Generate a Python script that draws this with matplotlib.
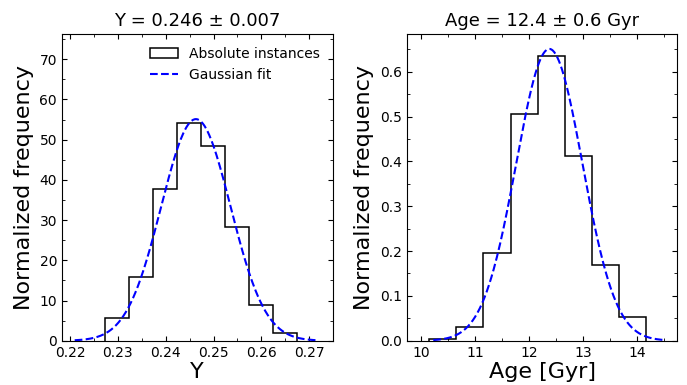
import numpy as np
import matplotlib
matplotlib.use("Agg")
import matplotlib.pyplot as plt
from matplotlib.ticker import MultipleLocator

# helium abundance Y histogram (normalized)
y_edges = [0.2274, 0.2324, 0.2374, 0.2424, 0.2474, 0.2524, 0.2574, 0.2624, 0.2674]
y_heights = [5.6, 15.9, 37.7, 54.1, 48.4, 28.2, 9.0, 1.8]
y_mu, y_sigma = 0.2463, 0.00724

# age histogram (normalized)
age_edges = [10.155, 10.655, 11.155, 11.655, 12.155, 12.655, 13.155, 13.655, 14.155]
age_heights = [0.0045, 0.031, 0.196, 0.505, 0.635, 0.413, 0.170, 0.052]
age_mu, age_sigma = 12.372, 0.613


def gauss(x, mu, sig):
    return np.exp(-0.5 * ((x - mu) / sig) ** 2) / (sig * np.sqrt(2 * np.pi))


fig = plt.figure(figsize=(6.87, 3.85), dpi=100)
ax1 = fig.add_axes([0.0902, 0.115, 0.394, 0.796])
ax2 = fig.add_axes([0.592, 0.115, 0.394, 0.796])

panels = [
    (ax1, y_edges, y_heights, y_mu, y_sigma, "Y = 0.246 ± 0.007", "Y",
     (0.2183, 0.2749), (0, 76.2), 0.01, 0.005, 10, 5),
    (ax2, age_edges, age_heights, age_mu, age_sigma, "Age = 12.4 ± 0.6 Gyr", "Age [Gyr]",
     (9.736, 14.739), (0, 0.6835), 1, 0.5, 0.1, 0.05),
]

for ax, edges, heights, mu, sig, title, xlab, xl, yl, xmaj, xmin, ymaj, ymin in panels:
    centers = 0.5 * (np.array(edges[:-1]) + np.array(edges[1:]))
    ax.hist(centers, bins=edges, weights=heights, histtype="step",
            color="black", lw=1.1, label="Absolute instances")
    x = np.linspace(mu - 3.5 * sig, mu + 3.5 * sig, 300)
    ax.plot(x, gauss(x, mu, sig), "b--", lw=1.5, label="Gaussian fit")
    ax.set_xlim(*xl)
    ax.set_ylim(*yl)
    ax.set_title(title, fontsize=13)
    ax.set_xlabel(xlab, fontsize=16, labelpad=2)
    ax.set_ylabel("Normalized frequency", fontsize=16)
    ax.xaxis.set_major_locator(MultipleLocator(xmaj))
    ax.xaxis.set_minor_locator(MultipleLocator(xmin))
    ax.yaxis.set_major_locator(MultipleLocator(ymaj))
    ax.yaxis.set_minor_locator(MultipleLocator(ymin))
    ax.tick_params(which="both", direction="in", top=True, right=True, labelsize=10)

ax1.xaxis.set_major_formatter(matplotlib.ticker.FormatStrFormatter("%.2f"))
ax2.yaxis.set_major_formatter(matplotlib.ticker.FormatStrFormatter("%.1f"))
ax1.legend(loc="upper right", frameon=False, fontsize=10)

fig.savefig("out.png", dpi=100)
